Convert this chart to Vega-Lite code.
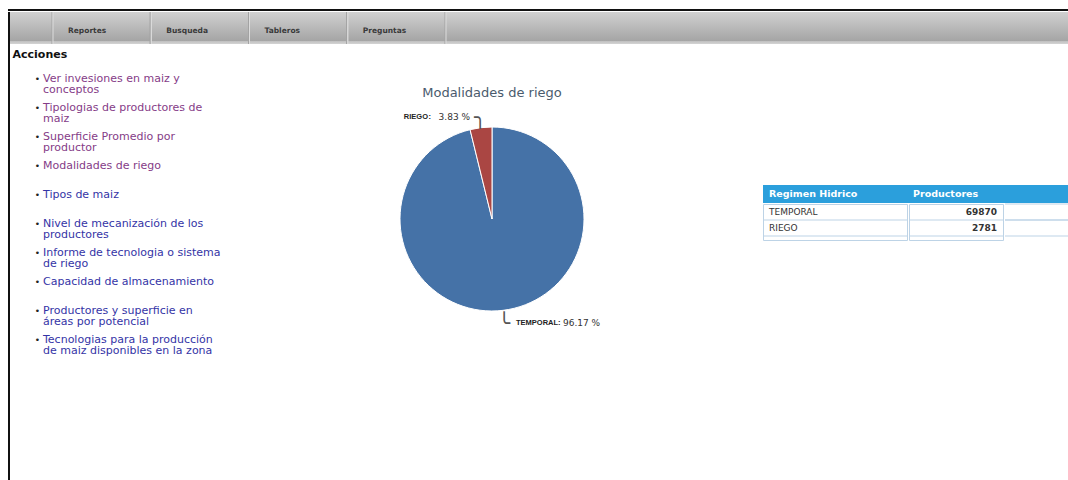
{
  "$schema": "https://vega.github.io/schema/vega-lite/v6.json",
  "background": "#ffffff",
  "padding": {"left": 8, "top": 9, "right": 0, "bottom": 0},
  "spacing": 0,
  "resolve": {"scale": {"color": "independent"}},
  "config": {
    "view": {"stroke": null},
    "concat": {"spacing": 0},
    "text": {"font": "DejaVu Sans"},
    "title": {"font": "DejaVu Sans"}
  },
  "datasets": {
    "riego": [
      {"Regimen": "TEMPORAL", "Productores": 69870, "Porcentaje": "96.17 %"},
      {"Regimen": "RIEGO", "Productores": 2781, "Porcentaje": "3.83 %"}
    ],
    "enlaces": [
      {"orden": 1, "texto": ["Ver invesiones en maiz y", "conceptos"], "estado": "visitado"},
      {"orden": 2, "texto": ["Tipologias de productores de", "maiz"], "estado": "visitado"},
      {"orden": 3, "texto": ["Superficie Promedio por", "productor"], "estado": "visitado"},
      {"orden": 4, "texto": ["Modalidades de riego"], "estado": "visitado"},
      {"orden": 5, "texto": ["Tipos de maiz"], "estado": "pendiente"},
      {"orden": 6, "texto": ["Nivel de mecanización de los", "productores"], "estado": "pendiente"},
      {"orden": 7, "texto": ["Informe de tecnologia o sistema", "de riego"], "estado": "pendiente"},
      {"orden": 8, "texto": ["Capacidad de almacenamiento"], "estado": "pendiente"},
      {"orden": 9, "texto": ["Productores y superficie en", "áreas por potencial"], "estado": "pendiente"},
      {"orden": 10, "texto": ["Tecnologias para la producción", "de maiz disponibles en la zona"], "estado": "pendiente"}
    ],
    "menu": [
      {"opcion": "Reportes"},
      {"opcion": "Busqueda"},
      {"opcion": "Tableros"},
      {"opcion": "Preguntas"}
    ],
    "columnas": [
      {"columna": "Regimen Hidrico"},
      {"columna": "Productores"},
      {"columna": ""}
    ]
  },
  "vconcat": [
    {
      "width": 1060,
      "height": 2,
      "view": {"fill": "#111111"},
      "data": {"values": [{"parte": "borde superior"}]},
      "mark": {"type": "text", "text": "", "fontSize": 0, "baseline": "top"},
      "encoding": {}
    },
    {
      "spacing": 0,
      "resolve": {"scale": {"color": "independent"}},
      "hconcat": [
        {
          "width": 2,
          "height": 469,
          "view": {"fill": "#111111"},
          "data": {"values": [{"parte": "borde izquierdo"}]},
          "mark": {"type": "text", "text": "", "fontSize": 0, "baseline": "top"},
          "encoding": {}
        },
        {
          "spacing": 0,
          "resolve": {"scale": {"color": "independent"}},
          "vconcat": [
            {
              "width": 1058,
              "height": 32,
              "view": {
                "fill": {
                  "gradient": "linear",
                  "x1": 0, "y1": 0, "x2": 0, "y2": 1,
                  "stops": [
                    {"offset": 0, "color": "#d0d0d0"},
                    {"offset": 0.9, "color": "#a5a5a5"},
                    {"offset": 0.92, "color": "#c2c2c2"},
                    {"offset": 1, "color": "#d4d4d4"}
                  ]
                }
              },
              "data": {"name": "menu"},
              "layer": [
                {
                  "mark": {"type": "rule", "color": "#a3a3a3", "strokeWidth": 1, "xOffset": -1},
                  "encoding": {"x": {"field": "opcion", "type": "nominal", "sort": null, "bandPosition": 0, "axis": null, "scale": {"type": "band", "paddingInner": 0, "paddingOuter": 0, "range": [43, 436]}}}
                },
                {
                  "mark": {"type": "rule", "color": "#dcdcdc", "strokeWidth": 1},
                  "encoding": {"x": {"field": "opcion", "type": "nominal", "sort": null, "bandPosition": 0, "axis": null, "scale": {"type": "band", "paddingInner": 0, "paddingOuter": 0, "range": [43, 436]}}}
                },
                {
                  "mark": {"type": "rule", "color": "#a3a3a3", "strokeWidth": 1, "xOffset": -1},
                  "encoding": {"x": {"field": "opcion", "type": "nominal", "sort": null, "bandPosition": 1, "axis": null, "scale": {"type": "band", "paddingInner": 0, "paddingOuter": 0, "range": [43, 436]}}}
                },
                {
                  "mark": {"type": "rule", "color": "#dcdcdc", "strokeWidth": 1},
                  "encoding": {"x": {"field": "opcion", "type": "nominal", "sort": null, "bandPosition": 1, "axis": null, "scale": {"type": "band", "paddingInner": 0, "paddingOuter": 0, "range": [43, 436]}}}
                },
                {
                  "mark": {"type": "text", "align": "left", "baseline": "middle", "dx": 15, "dy": 3, "font": "DejaVu Sans", "fontSize": 7.5, "fontWeight": "bold", "color": "#3a3a3a"},
                  "encoding": {
                    "x": {"field": "opcion", "type": "nominal", "sort": null, "bandPosition": 0, "axis": null, "scale": {"type": "band", "paddingInner": 0, "paddingOuter": 0, "range": [43, 436]}},
                    "text": {"field": "opcion", "type": "nominal"}
                  }
                }
              ]
            },
            {
              "spacing": 0,
              "resolve": {"scale": {"color": "independent"}},
              "hconcat": [
                {
                  "width": 212,
                  "height": 348,
                  "title": {"text": "Acciones", "anchor": "start", "offset": -24.3, "baseline": "alphabetic", "dx": 2.5, "font": "DejaVu Sans", "fontSize": 11, "fontWeight": "bold", "color": "#111111"},
                  "data": {"name": "enlaces"},
                  "layer": [
                    {
                      "mark": {"type": "text", "align": "center", "baseline": "middle", "dx": -78.5, "font": "DejaVu Sans", "fontSize": 9, "lineHeight": 11.1, "color": "#222222"},
                      "encoding": {
                        "y": {"field": "orden", "type": "ordinal", "axis": null, "scale": {"type": "band", "paddingInner": 0, "paddingOuter": 1, "align": 0.331}},
                        "text": {"condition": {"test": "length(datum.texto) > 1", "value": ["•", ""]}, "value": "•"}
                      }
                    },
                    {
                      "mark": {"type": "text", "align": "left", "baseline": "middle", "dx": -73, "font": "DejaVu Sans", "fontSize": 11, "lineHeight": 11.1},
                      "encoding": {
                        "y": {"field": "orden", "type": "ordinal", "axis": null, "scale": {"type": "band", "paddingInner": 0, "paddingOuter": 1, "align": 0.331}},
                        "text": {"field": "texto", "type": "nominal"},
                        "color": {"field": "estado", "type": "nominal", "scale": {"domain": ["visitado", "pendiente"], "range": ["#853c87", "#3434a6"]}, "legend": null}
                      }
                    }
                  ]
                },
                {
                  "width": 540,
                  "height": 348,
                  "title": {"text": "Modalidades de riego", "anchor": "middle", "offset": -65, "baseline": "alphabetic", "font": "DejaVu Sans", "fontSize": 13, "fontWeight": "normal", "color": "#4a5b6d"},
                  "data": {"name": "riego"},
                  "encoding": {
                    "theta": {"field": "Productores", "type": "quantitative", "stack": true},
                    "order": {"field": "Productores", "type": "quantitative", "sort": "descending"},
                    "detail": {"field": "Regimen", "type": "nominal"}
                  },
                  "layer": [
                    {
                      "mark": {"type": "arc", "radius": 92, "stroke": "#ffffff", "strokeWidth": 1},
                      "encoding": {"color": {"field": "Regimen", "type": "nominal", "scale": {"domain": ["TEMPORAL", "RIEGO"], "range": ["#4572A7", "#AA4643"]}, "legend": null}}
                    },
                    {
                      "mark": {"type": "text", "radius": 98, "align": "left", "baseline": "alphabetic", "dx": -6.25, "dy": 2.2, "font": "DejaVu Sans Mono", "fontSize": 20, "color": "#555555"},
                      "encoding": {"text": {"condition": {"test": "datum.Regimen === 'RIEGO'", "value": "╮"}, "value": ""}}
                    },
                    {
                      "mark": {"type": "text", "radius": 98, "align": "left", "baseline": "alphabetic", "dx": -5.75, "dy": 13.6, "font": "DejaVu Sans Mono", "fontSize": 20, "color": "#555555"},
                      "encoding": {"text": {"condition": {"test": "datum.Regimen === 'TEMPORAL'", "value": "╰"}, "value": ""}}
                    },
                    {
                      "mark": {"type": "text", "radius": 104, "align": "right", "baseline": "middle", "dx": -51.5, "dy": 1, "font": "Liberation Sans", "fontSize": 7.5, "fontWeight": "bold", "color": "#222222"},
                      "encoding": {"text": {"condition": {"test": "datum.Regimen === 'RIEGO'", "field": "Regimen", "type": "nominal"}, "value": ""}}
                    },
                    {
                      "mark": {"type": "text", "radius": 104, "align": "right", "baseline": "middle", "dx": -48.5, "dy": 1, "font": "Liberation Sans", "fontSize": 7.5, "fontWeight": "bold", "color": "#222222"},
                      "encoding": {"text": {"condition": {"test": "datum.Regimen === 'RIEGO'", "value": ":"}, "value": ""}}
                    },
                    {
                      "mark": {"type": "text", "radius": 104, "align": "right", "baseline": "middle", "dx": -9.5, "dy": 1, "font": "DejaVu Sans", "fontSize": 9, "color": "#333333"},
                      "encoding": {"text": {"condition": {"test": "datum.Regimen === 'RIEGO'", "field": "Porcentaje", "type": "nominal"}, "value": ""}}
                    },
                    {
                      "mark": {"type": "text", "radius": 104, "align": "left", "baseline": "middle", "dx": 11.5, "dy": 1, "font": "Liberation Sans", "fontSize": 7.5, "fontWeight": "bold", "color": "#222222"},
                      "encoding": {"text": {"condition": {"test": "datum.Regimen === 'TEMPORAL'", "field": "Regimen", "type": "nominal"}, "value": ""}}
                    },
                    {
                      "mark": {"type": "text", "radius": 104, "align": "left", "baseline": "middle", "dx": 53.5, "dy": 1, "font": "Liberation Sans", "fontSize": 7.5, "fontWeight": "bold", "color": "#222222"},
                      "encoding": {"text": {"condition": {"test": "datum.Regimen === 'TEMPORAL'", "value": ":"}, "value": ""}}
                    },
                    {
                      "mark": {"type": "text", "radius": 104, "align": "left", "baseline": "middle", "dx": 58.5, "dy": 1, "font": "DejaVu Sans", "fontSize": 9, "color": "#333333"},
                      "encoding": {"text": {"condition": {"test": "datum.Regimen === 'TEMPORAL'", "field": "Porcentaje", "type": "nominal"}, "value": ""}}
                    }
                  ]
                },
                {
                  "spacing": 0,
                  "vconcat": [
                    {
                      "width": 305,
                      "height": 140,
                      "data": {"values": [{"parte": "espacio"}]},
                      "mark": {"type": "text", "text": "", "fontSize": 0, "baseline": "top"},
                      "encoding": {}
                    },
                    {
                      "spacing": 0,
                      "hconcat": [
                        {
                          "width": 144,
                          "height": 18,
                          "view": {"fill": "#2b9fdc"},
                          "data": {"name": "columnas"},
                          "transform": [{"filter": "datum.columna === 'Regimen Hidrico'"}],
                          "mark": {"type": "text", "align": "left", "baseline": "middle", "dx": -66, "font": "DejaVu Sans", "fontSize": 9.5, "fontWeight": "bold", "color": "#ffffff"},
                          "encoding": {"text": {"field": "columna", "type": "nominal"}}
                        },
                        {
                          "width": 94,
                          "height": 18,
                          "view": {"fill": "#2b9fdc"},
                          "data": {"name": "columnas"},
                          "transform": [{"filter": "datum.columna === 'Productores'"}],
                          "mark": {"type": "text", "align": "left", "baseline": "middle", "dx": -41, "font": "DejaVu Sans", "fontSize": 9.5, "fontWeight": "bold", "color": "#ffffff"},
                          "encoding": {"text": {"field": "columna", "type": "nominal"}}
                        },
                        {
                          "width": 67,
                          "height": 18,
                          "view": {"fill": "#2b9fdc"},
                          "data": {"name": "columnas"},
                          "transform": [{"filter": "datum.columna === ''"}],
                          "mark": {"type": "text", "align": "left", "baseline": "middle", "font": "DejaVu Sans", "fontSize": 9.5, "fontWeight": "bold", "color": "#ffffff"},
                          "encoding": {"text": {"field": "columna", "type": "nominal"}}
                        }
                      ]
                    },
                    {
                      "spacing": 0,
                      "hconcat": [
                        {
                          "width": 144,
                          "height": 36,
                          "view": {"stroke": "#bdd3e6", "strokeWidth": 1},
                          "data": {"name": "riego"},
                          "layer": [
                            {
                              "mark": {"type": "rule", "color": "#bdd3e6", "strokeWidth": 1},
                              "encoding": {"y": {"field": "Regimen", "type": "nominal", "sort": null, "bandPosition": 1, "axis": null, "scale": {"type": "band", "paddingInner": 0, "paddingOuter": 0.125, "align": 0}}}
                            },
                            {
                              "mark": {"type": "text", "align": "left", "baseline": "middle", "dx": -66, "font": "DejaVu Sans", "fontSize": 9, "color": "#333333"},
                              "encoding": {
                                "y": {"field": "Regimen", "type": "nominal", "sort": null, "axis": null, "scale": {"type": "band", "paddingInner": 0, "paddingOuter": 0.125, "align": 0}},
                                "text": {"field": "Regimen", "type": "nominal"}
                              }
                            }
                          ]
                        },
                        {
                          "width": 94,
                          "height": 36,
                          "view": {"stroke": "#bdd3e6", "strokeWidth": 1},
                          "data": {"name": "riego"},
                          "layer": [
                            {
                              "mark": {"type": "rule", "color": "#bdd3e6", "strokeWidth": 1},
                              "encoding": {"y": {"field": "Regimen", "type": "nominal", "sort": null, "bandPosition": 1, "axis": null, "scale": {"type": "band", "paddingInner": 0, "paddingOuter": 0.125, "align": 0}}}
                            },
                            {
                              "mark": {"type": "text", "align": "right", "baseline": "middle", "dx": 41, "font": "DejaVu Sans", "fontSize": 9, "fontWeight": "bold", "color": "#333333"},
                              "encoding": {
                                "y": {"field": "Regimen", "type": "nominal", "sort": null, "axis": null, "scale": {"type": "band", "paddingInner": 0, "paddingOuter": 0.125, "align": 0}},
                                "text": {"field": "Productores", "type": "quantitative"}
                              }
                            }
                          ]
                        },
                        {
                          "width": 67,
                          "height": 36,
                          "data": {"name": "riego"},
                          "layer": [
                            {
                              "mark": {"type": "rule", "color": "#bdd3e6", "strokeWidth": 1},
                              "encoding": {"y": {"field": "Regimen", "type": "nominal", "sort": null, "bandPosition": 0, "axis": null, "scale": {"type": "band", "paddingInner": 0, "paddingOuter": 0.125, "align": 0}}}
                            },
                            {
                              "mark": {"type": "rule", "color": "#bdd3e6", "strokeWidth": 1},
                              "encoding": {"y": {"field": "Regimen", "type": "nominal", "sort": null, "bandPosition": 1, "axis": null, "scale": {"type": "band", "paddingInner": 0, "paddingOuter": 0.125, "align": 0}}}
                            }
                          ]
                        }
                      ]
                    }
                  ]
                }
              ]
            }
          ]
        }
      ]
    }
  ]
}
